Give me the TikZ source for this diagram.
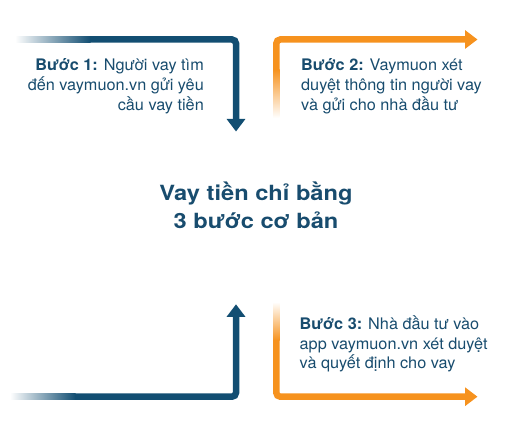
\documentclass[tikz,border=0pt]{standalone}
\usepackage{fontspec}
\setmainfont{TeX Gyre Heros}
\usepackage{xcolor}
\usepackage{tikz}
\usetikzlibrary{arrows.meta,calc}
\definecolor{vayBlue}{HTML}{124E72}
\definecolor{vayInk}{HTML}{184C6E}
\definecolor{vayOrange}{HTML}{F6921E}
\tikzset{
  blueArrow/.style={
    -{Triangle[length=12.5bp,width=18bp]},
    line width=6.5bp,
    draw=vayBlue,
    rounded corners=4bp
  },
  orangeArrow/.style={
    -{Triangle[length=12.5bp,width=18bp]},
    line width=6.5bp,
    draw=vayOrange,
    rounded corners=4bp
  },
  stepText/.style={
    inner sep=0pt,
    text=vayInk,
    font=\fontsize{16}{19.8}\selectfont\addfontfeature{FakeStretch=1.02}
  },
  titleText/.style={
    inner sep=0pt,
    text=vayInk,
    align=center,
    font=\fontsize{21}{28.3}\selectfont\bfseries\addfontfeature{FakeStretch=1.13}
  }
}

\begin{document}
\begin{tikzpicture}[x=1bp,y=-1bp]
  \useasboundingbox (0,0) rectangle (516,440);
  \coordinate (oneFade) at (15,39.5);
  \coordinate (oneStart) at (90,39.5);
  \coordinate (oneTip) at (236,131.5);
  \coordinate (twoFade) at (276.3,118);
  \coordinate (twoStart) at (276.3,70);
  \coordinate (twoTip) at (477.5,39.5);
  \coordinate (backFade) at (10,396.7);
  \coordinate (backStart) at (75,396.7);
  \coordinate (backTip) at (236,304.3);
  \coordinate (threeFade) at (276.3,302);
  \coordinate (threeStart) at (276.3,340);
  \coordinate (threeTip) at (477.5,396.7);
  \shade[left color=white,right color=vayBlue] ($(oneFade)+(0,-3.25)$) rectangle ($(oneStart)+(0.5,3.25)$);
  \draw[blueArrow] (oneStart) -| (oneTip);
  \shade[bottom color=white,top color=vayOrange] ($(twoFade)+(-3.25,0)$) rectangle ($(twoStart)+(3.25,-0.5)$);
  \draw[orangeArrow] (twoStart) |- (twoTip);
  \shade[left color=white,right color=vayBlue] ($(backFade)+(0,-3.25)$) rectangle ($(backStart)+(0.5,3.25)$);
  \draw[blueArrow] (backStart) -| (backTip);
  \shade[top color=white,bottom color=vayOrange] ($(threeFade)+(-3.25,0)$) rectangle ($(threeStart)+(3.25,0.5)$);
  \draw[orangeArrow] (threeStart) |- (threeTip);
  \node[stepText,align=right,anchor=base east] (stepOne) at (204,110.3) {\textbf{Bước 1:} Người vay tìm\\đến vaymuon.vn gửi yêu\\cầu vay tiền};
  \node[stepText,align=left,anchor=base west] (stepTwo) at (301,110.3) {\textbf{Bước 2:} Vaymuon xét\\duyệt thông tin người vay\\và gửi cho nhà đầu tư};
  \node[stepText,align=left,anchor=base west] (stepThree) at (299.5,368.9) {\textbf{Bước 3:} Nhà đầu tư vào\\app vaymuon.vn xét duyệt\\và quyết định cho vay};
  \node[titleText,anchor=base] (title) at (256,228.3) {Vay tiền chỉ bằng\\3 bước cơ bản};
\end{tikzpicture}
\end{document}
